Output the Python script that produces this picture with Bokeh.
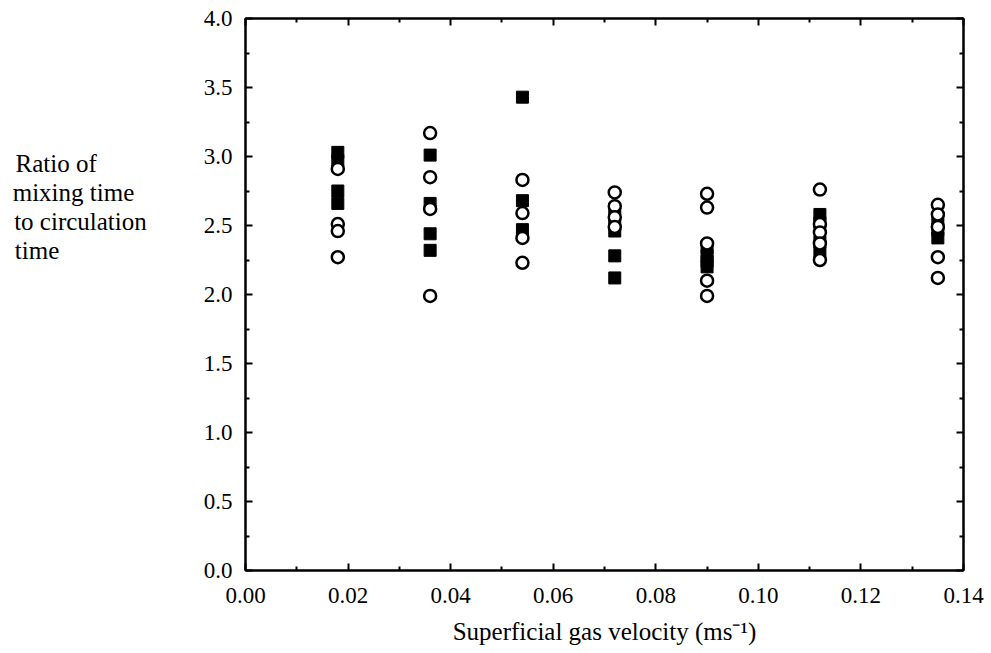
from bokeh.plotting import figure
from bokeh.models import Range1d, LinearAxis, FixedTicker, NumeralTickFormatter
from bokeh.embed import file_html
from bokeh.resources import INLINE

# Superficial gas velocity (m/s) for each run group
velocity = [0.018, 0.036, 0.054, 0.072, 0.090, 0.112, 0.135]

# Ratio of mixing time to circulation time, filled-square series
square_ratios = [
    [3.03, 2.97, 2.75, 2.66],
    [3.01, 2.66, 2.44, 2.32],
    [3.43, 2.68, 2.47],
    [2.62, 2.53, 2.46, 2.28, 2.12],
    [2.34, 2.28, 2.24, 2.20],
    [2.58, 2.52, 2.38, 2.30],
    [2.55, 2.47, 2.41],
]

# Ratio of mixing time to circulation time, open-circle series
circle_ratios = [
    [2.91, 2.51, 2.46, 2.27],
    [3.17, 2.85, 2.62, 1.99],
    [2.83, 2.59, 2.41, 2.23],
    [2.74, 2.64, 2.56, 2.49],
    [2.73, 2.63, 2.37, 2.10, 1.99],
    [2.76, 2.51, 2.45, 2.37, 2.25],
    [2.65, 2.58, 2.49, 2.27, 2.12],
]

x_major = [0.00, 0.02, 0.04, 0.06, 0.08, 0.10, 0.12, 0.14]
x_minor = [0.01, 0.03, 0.05, 0.07, 0.09, 0.11, 0.13]
y_major = [0.0, 0.5, 1.0, 1.5, 2.0, 2.5, 3.0, 3.5, 4.0]
y_minor = [0.25, 0.75, 1.25, 1.75, 2.25, 2.75, 3.25, 3.75]

sq_x = [v for v, ys in zip(velocity, square_ratios) for _ in ys]
sq_y = [y for ys in square_ratios for y in ys]
ci_x = [v for v, ys in zip(velocity, circle_ratios) for _ in ys]
ci_y = [y for ys in circle_ratios for y in ys]

FONT = "Liberation Serif"
NBSP = "\u00a0"

p = figure(width=991, height=653, output_backend="svg", toolbar_location=None,
           x_range=Range1d(0, 0.14), y_range=Range1d(0, 4.0),
           x_axis_location=None, y_axis_location=None,
           min_border_left=245, min_border_right=28,
           min_border_top=18, min_border_bottom=83)
p.grid.visible = False
p.outline_line_color = "black"
p.outline_line_width = 2
p.background_fill_color = "white"
p.border_fill_color = "white"

def style_axis(ax, show_labels):
    ax.axis_line_color = "black"
    ax.axis_line_width = 2
    ax.major_tick_in = 7
    ax.major_tick_out = 0
    ax.minor_tick_in = 4
    ax.minor_tick_out = 0
    ax.major_tick_line_width = 2
    ax.minor_tick_line_width = 2
    ax.major_tick_line_color = "black"
    ax.minor_tick_line_color = "black"
    ax.major_label_text_font = FONT
    ax.major_label_text_font_size = "23px"
    ax.major_label_text_color = "black" if show_labels else None
    ax.axis_label_text_font = FONT
    ax.axis_label_text_font_style = "normal"
    ax.axis_label_text_font_size = "25px"
    ax.axis_label_text_color = "black"

xt = FixedTicker(ticks=x_major, minor_ticks=x_minor)
yt = FixedTicker(ticks=y_major, minor_ticks=y_minor)

bottom = LinearAxis(ticker=xt, formatter=NumeralTickFormatter(format="0.00"),
                    axis_label="Superficial gas velocity (ms\u207b\u00b9)")
style_axis(bottom, True)
bottom.major_label_standoff = 17
bottom.axis_label_standoff = 12
p.add_layout(bottom, "below")

top = LinearAxis(ticker=xt)
style_axis(top, False)
top.major_label_text_font_size = "0px"
p.add_layout(top, "above")

# Horizontal multi-line caption on the left axis. The axis right-aligns the
# block, so shorter lines are padded to the width of the longest one; the
# trailing blank lines lift the block above the frame's vertical centre.
caption_lines = [
    "Ratio of" + NBSP * 8,
    "mixing time" + NBSP * 2,
    "to circulation",
    "time" + NBSP * 14,
]
left = LinearAxis(ticker=yt, formatter=NumeralTickFormatter(format="0.0"),
                  axis_label="\n".join(caption_lines) + "\n" * 6)
style_axis(left, True)
left.major_label_standoff = 13
left.axis_label_orientation = "horizontal"
left.axis_label_text_line_height = 1.08
left.axis_label_standoff = 54
p.add_layout(left, "left")

right = LinearAxis(ticker=yt)
style_axis(right, False)
right.major_label_text_font_size = "0px"
p.add_layout(right, "right")

p.scatter(sq_x, sq_y, marker="square", size=12, fill_color="black",
          line_color="black", line_width=1)
p.scatter(ci_x, ci_y, marker="circle", size=12, fill_color="white",
          line_color="black", line_width=2.5)

open("out.html", "w").write(file_html(p, INLINE))
